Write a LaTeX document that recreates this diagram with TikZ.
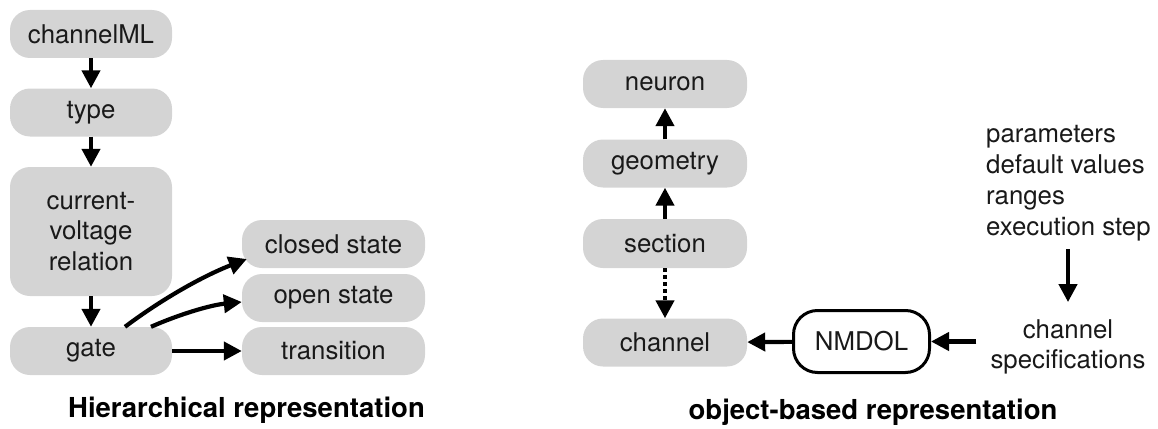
\documentclass[tikz,border=0pt]{standalone}
\usepackage{fontspec}
\setmainfont{TeX Gyre Heros}
\usetikzlibrary{arrows.meta,calc}
\definecolor{boxfill}{RGB}{212,212,212}
\definecolor{ink}{RGB}{25,25,25}
\begin{document}
\begin{tikzpicture}[x=1pt,y=-1pt,
  txt/.style={font=\fontsize{25.8}{31}\selectfont, text=ink},
  box/.style={txt, fill=boxfill, rounded corners=20pt, minimum width=162pt,
    minimum height=48pt, inner sep=0pt, align=center},
  wbox/.style={box, minimum width=183pt},
  rbox/.style={box, minimum width=164pt},
  link/.style={line width=4.2pt, -{Triangle[length=18pt,width=18pt]}},
  dotlink/.style={link, dash pattern=on 4pt off 3pt},
  title/.style={font=\fontsize{27.5}{33}\bfseries\selectfont, anchor=base, text=black}
]
\path[use as bounding box] (0,0) rectangle (1158,428);

% hierarchical side
\node[box] (cml) at (91,34) {channelML};
\node[box] (type) at (91,112.5) {type};
\node[box, minimum height=129pt, font=\fontsize{25.8}{30.5}\selectfont] (cv) at (91,231.5) {current-\\voltage\\relation};
\node[box] (gate) at (91,351) {gate};
\node[wbox] (closed) at (333.5,244) {closed state};
\node[wbox] (open) at (333.5,298) {open state};
\node[wbox] (trans) at (333.5,351) {transition};

\draw[link] (cml) -- (type);
\draw[link] (type) -- (cv);
\draw[link] (cv) -- (gate);
\draw[link] ($(gate.north)+(34,0)$) .. controls (162,299) and (203,276) .. ($(closed.west)+(5,15)$);
\draw[link] ($(gate.north)+(60,0)$) .. controls (180,314) and (211,305) .. ($(open.west)+(0,4)$);
\draw[link] (gate) -- (trans);

\node[title] (t1) at (246.5,417) {Hierarchical representation};

% object-based side
\node[rbox] (neuron) at (665,84) {neuron};
\node[rbox] (geom) at (665,163.5) {geometry};
\node[rbox, minimum height=49pt] (sect) at (665,243.5) {section};
\node[rbox] (chan) at (665,342.5) {channel};
\node[txt, draw, line width=3pt, fill=white, rounded corners=24pt,
  minimum width=136pt, minimum height=62pt, inner sep=0pt] (nmdol) at (861.5,341.5) {NMDOL};

\node[txt, anchor=north west, inner sep=0pt, align=left] (params) at (986,125)
  {parameters\\default values\\ranges\\execution step};
\node[txt, align=center, inner xsep=14pt, inner ysep=0pt, font=\fontsize{25.8}{30}\selectfont] (spec) at (1068,346.5)
  {channel\\specifications};

\draw[link] (geom) -- (neuron);
\draw[link] (sect) -- (geom);
\draw[dotlink] (sect) -- (chan);
\draw[link] (nmdol) -- (chan);
\draw[link] (spec.west |- nmdol.east) -- (nmdol.east);
\draw[link, shorten <=8pt, shorten >=17pt] (params.south -| spec.north) -- (spec.north);

\node[title] (t2) at (873,419) {object-based representation};
\end{tikzpicture}
\end{document}
